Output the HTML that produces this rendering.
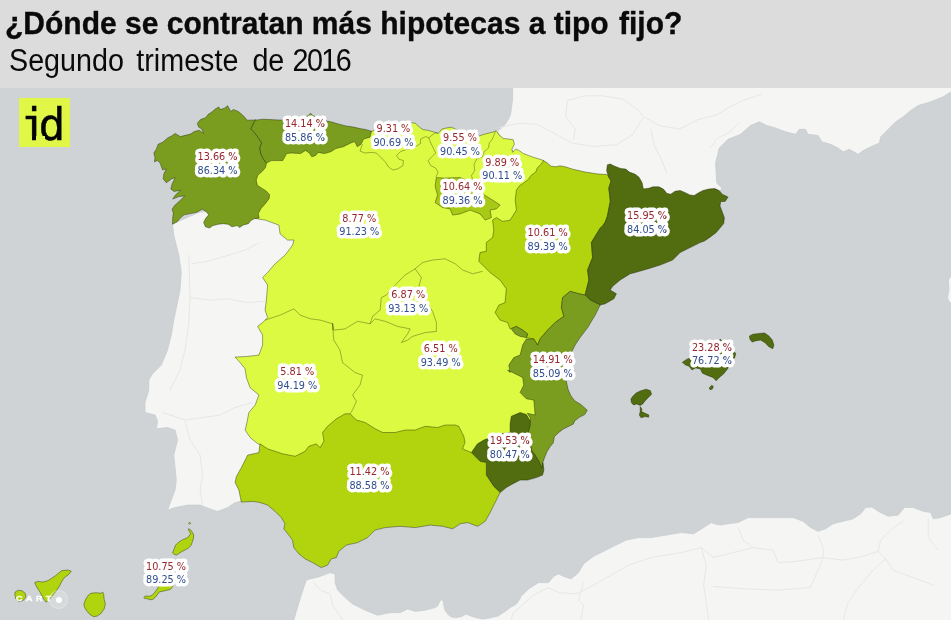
<!DOCTYPE html>
<html lang="es"><head><meta charset="utf-8"><title>¿Dónde se contratan más hipotecas a tipo fijo?</title>
<style>
html,body{margin:0;padding:0;background:#cfd3d5;}
body{width:951px;height:620px;position:relative;overflow:hidden;font-family:"Liberation Sans",sans-serif;}
#hdr{position:absolute;left:0;top:0;width:951px;height:88px;background:#dcdcdc;z-index:2;}
#t1{position:absolute;left:4.6px;top:6.3px;font-size:30.7px;font-weight:bold;color:#0a0a0a;-webkit-text-stroke:0.35px #0a0a0a;white-space:nowrap;line-height:36px;transform-origin:0 0;transform:scaleX(0.978);}
#t2{position:absolute;left:8.9px;top:42.2px;font-size:32.1px;font-weight:normal;color:#0a0a0a;white-space:nowrap;line-height:36px;word-spacing:4.9px;transform-origin:0 0;transform:scaleX(0.895);}
#logo{position:absolute;left:18.7px;top:97.7px;width:51.2px;height:49.7px;background:#e1f748;z-index:2;overflow:hidden;}
#logo span{position:absolute;left:1.5px;top:2.7px;font-family:"DejaVu Sans Mono","Liberation Mono",monospace;font-weight:normal;font-size:44.7px;line-height:50px;color:#050505;letter-spacing:-8.5px;-webkit-text-stroke:0.35px #050505;white-space:nowrap;}
#logo b{position:absolute;top:38.7px;height:5px;background:#e1f748;display:block;}
#carto{position:absolute;left:16.2px;top:594.3px;font-size:8px;font-weight:bold;color:#fff;letter-spacing:3.1px;line-height:10px;-webkit-text-stroke:0.3px #fff;z-index:2;transform-origin:0 0;transform:scaleX(1.12);white-space:nowrap;}
#cdot{position:absolute;left:48.8px;top:589.8px;width:19px;height:19px;border-radius:50%;background:rgba(255,255,255,0.16);border:0.6px solid rgba(255,255,255,0.25);box-sizing:border-box;z-index:2;}
#cdot i{position:absolute;left:6px;top:6px;width:6.4px;height:6.4px;border-radius:50%;background:#fff;}
</style></head><body>
<svg width="951" height="620" viewBox="0 0 951 620" style="position:absolute;left:0;top:0">
<rect x="0" y="88" width="951" height="532" fill="#cfd3d5"/>
<g fill="#f5f5f4" stroke="#c6cbce" stroke-width="0.7" stroke-linejoin="round">
<polygon points="172.5,223.9 173.8,235.2 175,240 178.8,255 181.3,272.5 180,290.1 177.5,302.6 173.8,320.1 171.3,335.1 167.5,350.1 161.3,365.1 152.5,373.9 148.8,380.1 148.8,390 145,402.5 145,412.5 155.1,415 157.6,421.3 156.3,428.8 167.6,427.5 175.1,430.1 177.6,440.1 173.8,455.1 175.1,467.6 176.3,480.1 175.1,490.1 171.3,500.1 167.6,510.1 175.1,507.6 187.6,505.1 200.1,505.1 210.1,508.9 217.6,511.4 227.6,507.6 235.1,502.6 240.1,501.4 270,490 300,440 300,240 270,215 230,210 200,212"/>
<polygon points="513,80 512.5,100 510.7,113.8 508.8,118.8 505.6,123.9 501.8,127.7 496.8,131.5 520,160 600,185 700,210 718,195 721.8,188.1 716.8,183.1 715.5,163.1 719.3,148.1 728,139.3 740.5,134.3 750.5,125.5 759.3,121.8 766.8,125.5 775.6,128 785.6,131.8 795.6,134.3 799.3,129.3 805.6,129.3 808.1,134.3 818.1,135.5 821.9,141.8 830.6,144.3 838.1,148.1 843.1,151.8 849.4,149.3 858.2,154.3 863.2,150.6 870.7,146.8 879.4,143.1 880.7,136.8 888.2,129.3 895.7,121.8 903.2,116.8 910.7,110.5 918.2,105.5 930.7,101.8 943.2,96.8 951,91.8 958,90 958,80"/>
<polygon points="293.8,619.9 297.5,607.6 301.3,595.1 306.3,580.1 310.1,578.9 320.1,576.4 330.1,572.6 335.1,573.9 335.1,582.6 337.6,590.1 345.1,597.6 352.6,603.9 365.1,610.2 377.6,615.2 390.1,612.7 400.1,612.7 407.7,608.9 415.2,611.4 425.2,610.2 435.2,607.6 437.7,605.9 440.2,600.8 442.1,599.3 443.3,602.1 444.6,609.6 447.1,613.4 450.3,616.6 455.3,617.8 461.6,616.6 466.1,614.1 470.5,615.9 476.8,617.8 483.1,619.1 490.7,617.8 498.2,615.9 505.8,610.9 510.9,607.1 515.9,604.6 519.7,599.5 521,596.4 528.6,588.9 538.6,582.6 548.6,582.6 553.6,576.4 558.6,573.9 563.6,576.4 571.1,578.9 578.6,572.6 583.6,563.9 593.6,556.3 603.6,551.3 613.6,546.3 626.2,540.1 638.7,537.6 651.2,537.6 666.2,535.1 681.2,532.6 693.7,533.8 703.7,527.6 711.2,522.6 714,523.8 720.5,525.1 728,523.8 738,522.6 748,517.6 763.1,517.6 778.1,517.6 793.1,517.6 803.1,521.3 810.6,527.6 818.1,531.3 825.6,528.8 833.1,523.8 843.1,521.3 853.1,518.8 860.7,513.8 865.7,507.5 871.9,507 878.2,511.3 888.2,516.3 898.2,515.1 904.5,507.5 913.2,507.5 923.2,511.3 930.7,512.5 933.2,518.8 940.7,517.6 952.8,513.3 958,628 291,628"/>
<polygon points="951.5,275 948.5,280 949,290 947.5,298 950,303 951.5,303"/>
</g>
<g fill="none" stroke="#e7e7e5" stroke-width="1" stroke-linejoin="round">
<polyline points="499.5,127.4 518.4,123.3 537.3,124.3 557.8,135.3 572,143.2 594.1,146.4 616.2,144.8 632,135.3 643,118"/>
<polyline points="643,116.4 660.3,125.9 679.3,129 698.2,119.5 717.1,114.8 729.7,106.9 742.4,100.6 761.3,94.3"/>
<polyline points="567.3,100.6 584.6,95.9 603.6,95.9 622.5,99 638.3,110.1 643,116.4"/>
<polyline points="567.3,100.6 565.7,116.4 575.2,129 573.6,140.1"/>
<polyline points="650.9,129 654,144.8 661.9,160.6 666.7,173.2"/>
<polyline points="710.8,147.9 717.1,138.5 729.7,132.2 739.2,122.7"/>
<polyline points="191.3,263.8 207.6,261.3 225.1,256.3 245.1,250 260.1,242.5"/>
<polyline points="190.1,297.6 212.6,300.1 227.6,298.8 247.6,302.6 265.1,301.3"/>
<polyline points="188.8,255 190.1,297.6 188.8,322.6 185,350.1 180,370.1 170,390.2"/>
<polyline points="162.6,412.5 185.1,420 202.6,417.5 220.1,415 235.1,407.5 252.7,402.5"/>
<polyline points="185.1,421.3 190.1,440.1 200.1,455.1 202.6,475.1 200.1,490.1 202.6,505.1"/>
<polyline points="713,557.6 733,552.6 753,547.6 773.1,550.1 778.1,562.6 795.6,561.4 823.1,557.6 843.1,560.1 863.2,556.3 878.2,551.3 885.7,558.8 893.2,570.1 913.2,577.6 933.2,585.1"/>
<polyline points="818.1,535.1 823.1,547.6 823.1,557.6 818.1,570.1 810.6,587.6 778.1,590.1 745.5,588.9 713,586.4"/>
<polyline points="878.2,551.3 880.7,540.1 893.2,527.6 903.2,521.3"/>
<polyline points="885.7,558.8 873.2,570.1 858.2,587.6 848.1,602.6 843.1,619.9"/>
<polyline points="738,527.6 743,540.1 753,547.6"/>
<polyline points="928.2,518.8 928.2,537.6 938.2,550.1"/>
<polyline points="511,619.9 513.5,612.7 533.6,595.1 548.6,587.6 558.6,592.6 576.1,593.9 593.6,585.1 611.1,575.1 628.7,565.1 651.2,557.6 681.2,552.6 701.2,547.6 714,557.6"/>
<polyline points="583.6,582.6 578.6,600.1 583.6,605.1 581.1,619.9"/>
<polyline points="701.2,547.6 706.2,565.1 703.7,585.1 708.7,619.9"/>
<polyline points="313.8,582.6 320.1,590.1 330.1,593.9 332.6,605.1 342.6,619.9"/>
</g>
<g stroke="#141e00" stroke-opacity="0.5" stroke-width="0.8" stroke-linejoin="round">
<polygon fill="#dcfa42" points="257.6,218.9 265.1,220.1 278.9,225.1 280.1,233.9 287.6,240.1 293.9,240 292.7,245 285.2,255 275.1,263.8 267.6,272.5 262.6,277.5 267.6,285 266.4,300.1 265.1,310.1 267.6,317.6 262.6,322.6 257.6,326.3 262.6,335.1 262.6,345.1 258.9,355.1 247.6,356.4 235.1,357.1 240.1,362.6 245.1,368.9 246.4,377.6 250.1,387.7 258.9,395 255.2,405 248.9,412.5 246.4,425 245.2,430.1 250.2,437.6 256.4,442.6 260.2,445.1 300,480 450,470 490,450 530,425 548,395 555,345 560,300 560,200 543.5,160.5 539.7,159.2 533.4,157.3 528.3,155.4 523.3,153.5 518.9,150.4 515.7,149.1 512.6,152.3 511.9,149.1 514.4,144.1 513.2,139.7 508.1,139 503.1,138.4 499.3,135.2 496.8,131.5 496.2,130.8 493,132.1 487.9,133.3 482.9,134.6 477.9,136.5 470,134 461.5,130.8 456.4,129.6 451.4,127.2 447.1,127.8 442,129 438.2,133.4 434.4,132.2 428.1,130.3 423.1,129.7 419.3,127.1 415.5,123.3 411.7,122.7 408,122.5 400,124.5 390,126 380,128.5 371.5,131.3 340,140 270,150 240,185 245,215"/>
<polygon fill="#7a9c1f" points="256,119.9 247.2,120.2 243.4,115.8 238.3,111.4 233.3,109.5 230.8,111.4 227.6,105.7 224.4,108.2 220,109.5 218.8,106.9 215.6,108.8 211.8,112 208,114.5 205.5,117.7 200.5,119.6 197.3,123.3 198.6,127.1 201.7,129 203.6,133.4 199.2,130.3 194.2,131.5 190.4,134.1 185.3,135.3 180.3,136.6 175.2,133.4 171.5,136 167.7,137.9 162.6,142.3 158.2,144.2 156.3,149.2 153.8,153 155,157.4 154.4,161.8 157.6,160.6 160.1,163.1 162.6,170 166.4,168.8 163.9,173.8 163.2,178.9 166.4,182.7 171.5,178.9 175.2,177.6 172.1,183.9 170.8,189 174,191.5 180.3,190.2 175.2,195.3 172.7,199.1 179,196.5 184.7,195.9 179,201.6 174.6,205.4 172.1,209.2 173.3,212.9 172.7,218 172.5,224.3 177.1,221.8 180.3,218 184.1,214.8 190.4,213.6 196.7,212.3 202.4,209.2 206.2,211.7 208.7,214.8 205.5,218.6 203.6,222.4 205.5,226.8 209.3,228.1 213.1,225.6 218.1,224.3 223.2,223.7 228.2,224.3 232,226.8 237.1,225.6 239.6,227.5 243.4,224.9 248.4,223.7 250.9,220.5 254.7,218.6 259.1,218 258.3,213.6 261,208.5 265.5,203.5 269.2,198.4 269.6,194.7 266.1,190.9 261,187.7 257.3,185.2 256.2,180.1 257.9,175.1 262.3,171.3 265.5,167.5 266.1,165 266.4,163.1 263.6,159.3 261,154.3 259.8,148 261.7,142.9 258.5,137.9 254.7,132.8 250.9,129 254.7,120.8"/>
<polygon fill="#7a9c1f" points="254.7,120.8 255,120.2 262.6,119.2 270.2,119.6 277.8,119.9 287.9,120.2 300.5,118.9 308,115.8 310.6,113.2 313.1,115.8 320.7,118.9 325.7,120.8 332,122.1 338.3,124 345.9,125.9 353.5,127.1 361,128.8 365.5,129.4 371.5,131.3 370,137.2 363.6,139.1 361,144.2 357.3,146.7 354.7,141.6 350.9,142.9 343.4,146.7 335.8,148.6 330.8,151.7 324.4,153.6 318.1,152.4 315.6,155.5 311.8,156.8 309.3,153 305.5,150.5 300.5,153.6 291.6,153 286.6,153.6 282.8,160.6 271.5,160.6 266.4,163.1 266.4,163.1 263.6,159.3 261,154.3 259.8,148 261.7,142.9 258.5,137.9 254.7,132.8 250.9,129"/>
<polygon fill="#a9c917" points="436.3,177.6 443.8,178.1 460.1,177.6 472.6,182.6 482.6,193.9 492.6,200.1 500.1,205.1 496.4,208.9 490.1,210.1 491.4,217.6 485.1,220.1 480.1,213.9 470.1,210.1 460.1,213.9 452.6,215.1 450.1,208.9 442.6,207.6 435.1,202.6 437.6,195.1 435.1,186.4"/>
<polygon fill="#b1d40e" points="543.5,160.5 547.3,163 551,166.2 556.1,166.8 560,165.8 566,167 572,169 585,172 598,174 606.8,174.5 608.1,175.8 611,180.9 608.8,188.3 609.6,194.2 610.3,201.5 608.8,208.9 607.4,216.2 605.2,222.1 602.2,226.5 597.5,232.5 591.4,242.5 592.6,257.5 587.6,270 588.9,280 585.1,295 578.9,293.8 570.1,291.3 562.6,297.6 561.4,307.6 563.9,316.3 555.1,322.6 547.6,330.1 540.1,338.9 537.6,345.1 533.8,338.9 526.3,337.6 527.6,333.9 522.6,330.1 516.3,326.4 510.1,328.9 507.6,322.6 500.1,320.1 495.1,312.6 498.8,305.1 505.1,302.6 506.3,288.8 500.1,280.1 490.1,272.5 485,267.5 478.8,261.3 480,252.5 486.3,251.3 486.3,242.5 492.6,237.5 493.8,230 492.6,220.1 496.4,217.6 502.6,221.4 510.2,220.1 516.4,210.1 515.2,200.1 516.4,190.1 519.5,185.7 523.3,183.2 528.3,179.4 530.9,175.6 535.9,171.8 537.2,168 540.9,164.3"/>
<polygon fill="#526c10" points="607.4,164.7 610.3,164 614.7,166.2 620.6,168.4 625.8,169.1 629.4,172.1 635.3,174.3 639,177.2 642,182.4 643.4,189 648.6,188.3 653,186.8 658.9,186.8 663.3,189 667,193.4 670.7,194.2 675.1,191.2 680.2,190.5 685.4,192.7 689.8,194.9 694.2,195.6 698.6,192.7 703,190.5 708.9,189 714.8,188.6 719.2,190.5 722.2,194.2 728.1,197.1 725.1,201.5 720.7,201.5 720,205.9 722.2,211.8 724.4,217.7 723.7,223.6 720,228 716.3,232.4 710.4,236.9 704.5,241 700.1,242.6 690.1,247.6 680.1,252.6 672.6,260.1 660.1,265.1 647.6,268.9 635.1,272.6 630.2,273.8 620.2,280 612.7,286.3 610.2,290 616.4,293.8 613.9,298.8 605.2,303.8 600.2,305 590.1,300 585.1,295 588.9,280 587.6,270 592.6,257.5 591.4,242.5 597.5,232.5 600,228 602.2,226.6 605.2,222.1 607.4,216.2 608.8,208.9 610.3,201.5 609.6,194.2 608.8,188.3 611,180.9 608.1,175.8 606.6,170.6"/>
<polygon fill="#526c10" points="511.3,416.3 520.1,412.5 526.3,414.5 532.1,423.8 530.6,432.6 529.6,436.3 532.1,445.1 538.1,455.1 543.1,463.1 543.9,470.1 542.6,475.1 536.4,477.6 527.6,480.1 520.1,480.1 512.6,483.9 506.3,487.6 500.1,492.6 493.8,486.4 486.3,475.1 486.3,462.6 480,461.3 471.3,452.6 477.5,443.8 483.8,440.1 490.1,437.6 500.1,433.8 510.1,432.6 510.1,423.8"/>
<polygon fill="#7a9c1f" points="585.1,295 590.1,300 600.2,305 595.2,315.1 587.7,327.6 580.1,337.6 575.1,345.1 570.1,355.1 567.6,365.1 565.1,375.2 567.1,385 568.3,390 570.9,395.7 574.6,400.7 580.9,404.5 587.3,410.2 584.7,414.6 579.7,417.1 574.6,420.9 573.4,424.1 568.3,426.6 563.3,429.1 558.2,432.9 554.4,436.7 553.2,443 550,446.8 546.9,451.8 544.4,458.1 542.5,463.2 541.8,468 539.3,461.9 535.5,455.6 531.7,450.6 529.8,440.5 528.6,431.6 530.2,425.3 530.5,418.4 527.3,413.3 535.1,415 533.8,400 526.3,398.8 520.1,392.5 523.8,385 522.6,377.5 507.6,370 510.1,372.6 508.8,365.1 513.8,357.6 520.1,355.1 522.6,345.1 526.3,338.9 533.8,338.9 537.6,345.1 540.1,338.9 547.6,330.1 555.1,322.6 563.9,316.3 561.4,307.6 562.6,297.6 570.1,291.3 578.9,293.8"/>
<polygon fill="#7a9c1f" points="511.3,328.9 516.3,326.4 522.6,330.1 527.6,333.9 526.3,337.6 520.1,336.4 515.1,333.9"/>
<polygon fill="#b1d40e" points="260,443.8 267.5,448.8 275.1,451.3 282.6,453.8 295.1,456.3 305.1,451.3 308.8,446.3 316.3,443.8 320.1,447.6 323.9,441.3 322.6,432.5 327.6,426.3 336.4,418.8 345.1,413.8 350.1,413.8 356.4,420 365.1,422.5 375.2,428.8 382.7,432.5 395.2,432.5 405.2,430 415.2,430 425.2,426.3 437.7,427.5 445.2,425 455.2,425 458.8,426.3 463.8,436.3 465,442.6 462.5,448.8 471.3,452.6 480,461.3 486.3,462.6 486.3,475.1 493.8,486.4 500.1,492.6 495.1,502.6 490.1,512.6 485.2,521.3 477.7,526.3 467.7,522.6 460.2,523.8 452.7,528.8 442.7,526.3 430.2,525.1 415.2,527.6 400.1,526.3 385.1,527.6 375.1,530.1 367.6,537.6 357.6,542.6 346.3,545.1 338.8,551.3 336.3,557.6 331.3,558.8 327.6,565.1 321.3,567.6 312.6,562.6 305,558.8 298.8,553.8 293.8,547.6 292.5,540.1 288.8,535.1 283.8,528.8 285,523.8 281.3,517.6 275,511.3 267.5,505 260,502.5 252.5,501.4 241.3,502.1 238.9,490.1 235.1,482.6 236.4,476.4 241.4,467.6 247.7,455.1 258.9,452.6"/>
<polygon fill="#526c10" points="682.3,362.3 686.5,359.4 692.3,356.9 700.8,350.2 710.9,344.3 720.6,339.3 724.3,343.5 731,350.2 735.8,353.2 734.7,357.8 731,361.1 727.7,368.7 723.5,374.1 719.3,377.4 716.2,380.8 712.9,377.4 707.5,375.4 702.4,373.2 700.4,369 695.7,367.9 692,369.9 689,366.2 685.6,365"/>
<polygon fill="#526c10" points="709.2,388 711.7,385.2 713.4,386.4 712.2,389.2 710,389.7"/>
<polygon fill="#526c10" points="749.5,335.9 752.9,334.2 759.6,333.4 764.7,333 768.9,335.9 772.3,340.1 773.9,345.1 772.8,348.8 768.9,346.8 764.7,342.6 760.5,340.1 755.4,340.9 752.1,342.1 749.9,339.3"/>
<polygon fill="#526c10" points="630.9,399 632.6,396.5 636,393.1 640.2,390.9 646.1,389.2 650.3,390.6 651.6,394.3 648.6,397.3 645.2,400.7 642.7,404 640.2,405.4 636.8,404 633.5,404.9 631.4,402.7"/>
<polygon fill="#526c10" points="640.2,406.6 641.9,409.1 641.5,411.6 645.2,413.3 648.9,415 648.6,417.2 645.2,416.6 641,417.8 639.3,415 640.2,411.6"/>
<polygon fill="#b1d40e" points="172.6,552.9 174.2,548.6 175.7,545 178.4,542.3 182.6,539.7 186.8,538.1 189.4,535.5 190.5,533.4 188.9,530.8 188.4,528.7 190.5,529.7 192,531.8 193.6,534.5 193.6,537.6 192.6,541.3 191,545.5 188.4,548.1 184.7,550.2 181.5,551.8 178.9,553.4 176.8,555 174.2,554.4"/>
<polygon fill="#b1d40e" points="188.6,523.2 189.6,522.2 190.6,523.2 189.6,524.3"/>
<polygon fill="#b1d40e" points="143.9,597.4 144.7,596.3 146.8,596 149.8,596.3 152.3,594.9 154.8,592.3 156.9,589.4 158.2,587.3 162,583 168,578 173,575 175,578 174,584 172.1,587.3 170.4,589.4 167,590.2 163.6,591.1 159.4,591.9 157.8,594 155.2,597.4 152.7,599.5 150.2,599.7 146.8,598.6 144.7,598.6"/>
<polygon fill="#b1d40e" points="83.9,604.1 85.8,599 88.3,595.2 90.9,593.3 95.9,592.7 100.9,593.3 102.8,592.1 103.7,594.6 104.1,599 105.4,604.1 104.1,609.1 100.9,613.5 97.2,616.1 93.4,616.7 89.6,614.2 86.4,610.4 84.5,607.2"/>
<polygon fill="#b1d40e" points="34.7,582.6 37.9,581.4 42.9,582 47.9,580.7 51.7,578.2 55.5,575.7 59.3,572.5 61.8,570.6 68.1,570 71.3,571.3 68.1,575 64.4,577.6 61.8,581.4 59.3,586.4 56.8,590.2 53,595.2 49.2,599.7 46.1,602.2 42.9,597.8 40.4,592.7 37.9,588.9 36,585.8"/>
<polygon fill="#b1d40e" points="15.1,592.1 18.3,590.2 22.1,590.8 25.2,593.3 25.9,597.1 23.3,600.3 18.9,601.5 15.8,599 14.9,595.2"/>
</g>
<g fill="none" stroke="#141e00" stroke-opacity="0.42" stroke-width="0.8" stroke-linejoin="round">
<polyline points="332.5,323.1 333.8,330.1 345,328.9 357.6,321.3 370.1,323.8 372.6,316.3 380.1,310.1 381.3,297.6 386.3,295.1 396.4,283.8 405.1,275 415.1,268.8 422.6,262.5 432.6,260 445.2,258.8 455.2,263.8 462.7,270 472.7,273.8 482.7,271.3"/>
<polyline points="415.1,268.8 421.4,277.5 418.9,286.3 425.1,300.1 432.6,311.3 436.4,322.6 436.4,331.4 425.1,332.6 412.6,336.4 407.6,340.1 401.4,342.6 407.6,333.9 410.1,328.9 397.6,326.4 385.1,321.3 375.1,318.8 370.1,323.8"/>
<polyline points="332.5,323.8 333.8,340.1 340,350.1 342.5,362.6 355.1,372.6 362.6,375.2 360.1,384.9 352.6,395 356.4,401.3 352.6,410 350.1,413.8"/>
<polyline points="265.1,320.1 280.1,315.1 293.9,308.8 300.2,315.1 310.2,318.8 320.2,320.1 332.7,323.8 332.7,330.1"/>
<polyline points="360,151.1 365,153 371.4,152.4 376.4,153 380.2,156.8 385.2,161.8 388.4,166.9 392.8,170 397.9,168.8 402.9,165.6 403.5,160.6 399.1,159.3 396.6,155.5 400.4,151.7 405.4,149.8 415.5,146.7 420.6,143.5 420.6,139.1 425.6,136.6 428.8,137.9 432.6,134.7 435.7,132.8 437.6,133.1"/>
<polyline points="428.8,137.9 430.7,142.9 433.2,147.9 435.7,153 431.9,156.8 428.1,160.6 430.7,165.6 435.7,168.1 438,172 436,177"/>
<polyline points="495.5,131.5 491.7,140.3 489.2,142.8 488.6,147.9 484.2,151.6 482.3,156.7 476.6,159.2 474.1,164.3 474.7,170.6 471.5,175.6 472.8,180.7"/>
<polyline points="362.5,144 360,151.1"/>
</g>
<g font-family="'DejaVu Sans', sans-serif" font-size="9.7" text-anchor="middle" stroke="#ffffff" stroke-width="6.8" stroke-linejoin="round" stroke-linecap="round" paint-order="stroke fill">
<text x="217.5" y="159.8"><tspan fill="#97252d">13.66 %</tspan><tspan x="217.5" dy="13.9" fill="#2f4d8f">86.34 %</tspan></text>
<text x="304.9" y="126.75"><tspan fill="#97252d">14.14 %</tspan><tspan x="304.9" dy="13.9" fill="#2f4d8f">85.86 %</tspan></text>
<text x="393.4" y="132.2"><tspan fill="#97252d">9.31 %</tspan><tspan x="393.4" dy="13.9" fill="#2f4d8f">90.69 %</tspan></text>
<text x="460" y="141.3"><tspan fill="#97252d">9.55 %</tspan><tspan x="460" dy="13.9" fill="#2f4d8f">90.45 %</tspan></text>
<text x="502.3" y="165.5"><tspan fill="#97252d">9.89 %</tspan><tspan x="502.3" dy="13.9" fill="#2f4d8f">90.11 %</tspan></text>
<text x="462.5" y="189.7"><tspan fill="#97252d">10.64 %</tspan><tspan x="462.5" dy="13.9" fill="#2f4d8f">89.36 %</tspan></text>
<text x="359.3" y="221.5"><tspan fill="#97252d">8.77 %</tspan><tspan x="359.3" dy="13.9" fill="#2f4d8f">91.23 %</tspan></text>
<text x="547.6" y="235.8"><tspan fill="#97252d">10.61 %</tspan><tspan x="547.6" dy="13.9" fill="#2f4d8f">89.39 %</tspan></text>
<text x="647" y="218.95"><tspan fill="#97252d">15.95 %</tspan><tspan x="647" dy="13.9" fill="#2f4d8f">84.05 %</tspan></text>
<text x="408.2" y="297.7"><tspan fill="#97252d">6.87 %</tspan><tspan x="408.2" dy="13.9" fill="#2f4d8f">93.13 %</tspan></text>
<text x="440.7" y="351.7"><tspan fill="#97252d">6.51 %</tspan><tspan x="440.7" dy="13.9" fill="#2f4d8f">93.49 %</tspan></text>
<text x="297.3" y="374.7"><tspan fill="#97252d">5.81 %</tspan><tspan x="297.3" dy="13.9" fill="#2f4d8f">94.19 %</tspan></text>
<text x="552.8" y="362.8"><tspan fill="#97252d">14.91 %</tspan><tspan x="552.8" dy="13.9" fill="#2f4d8f">85.09 %</tspan></text>
<text x="509.8" y="444.3"><tspan fill="#97252d">19.53 %</tspan><tspan x="509.8" dy="13.9" fill="#2f4d8f">80.47 %</tspan></text>
<text x="369.4" y="475.4"><tspan fill="#97252d">11.42 %</tspan><tspan x="369.4" dy="13.9" fill="#2f4d8f">88.58 %</tspan></text>
<text x="711.9" y="350.5"><tspan fill="#97252d">23.28 %</tspan><tspan x="711.9" dy="13.9" fill="#2f4d8f">76.72 %</tspan></text>
<text x="166.05" y="569.5"><tspan fill="#97252d">10.75 %</tspan><tspan x="166.05" dy="13.9" fill="#2f4d8f">89.25 %</tspan></text>
</g>
</svg>
<div id="hdr"><div id="t1">¿Dónde se contratan más hipotecas a tipo <span style="margin-left:2px">fijo?</span></div><div id="t2">Segundo trimeste <span style="margin-left:1.8px">de</span> <span style="letter-spacing:-1.8px;margin-left:-4.6px">2016</span></div></div>
<div id="logo"><span>id</span><b style="left:4px;width:8.9px"></b><b style="left:17.7px;width:8.7px"></b></div>
<div id="cdot"><i></i></div><div id="carto">CART</div>
</body></html>
